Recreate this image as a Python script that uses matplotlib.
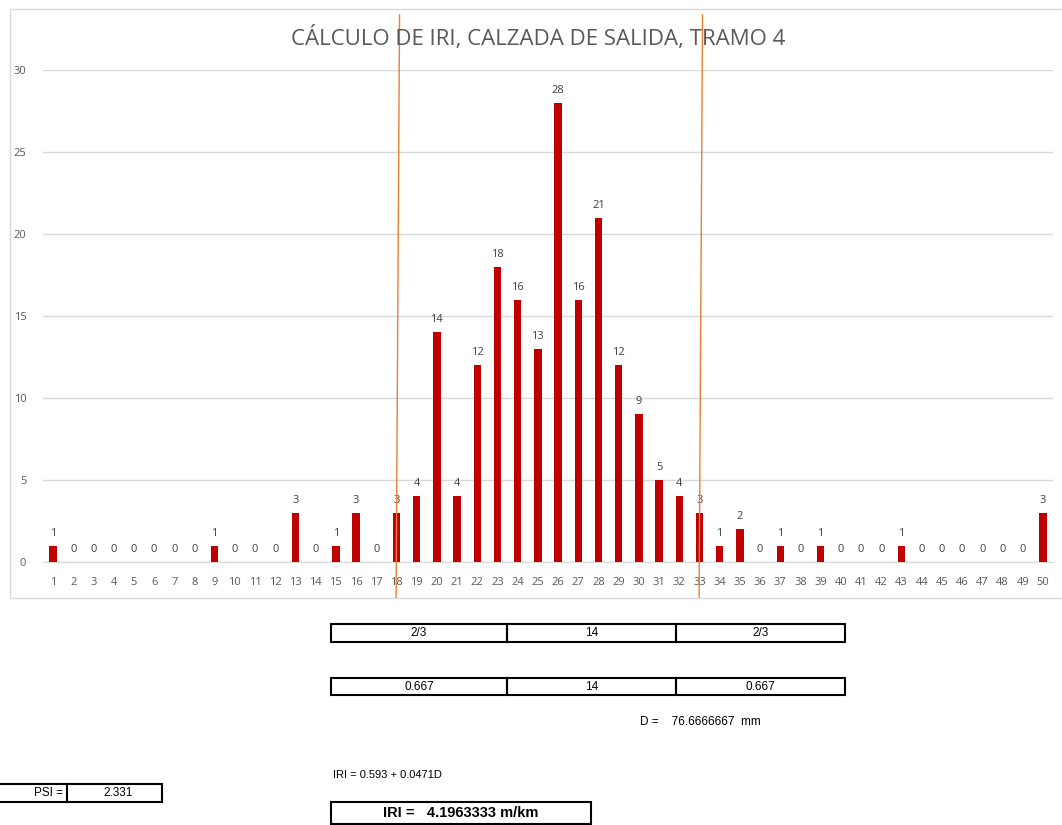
import matplotlib
matplotlib.use('Agg')
import matplotlib.pyplot as plt
from matplotlib.patches import Rectangle

# Frequency of each class (1..50)
clases = list(range(1, 51))
frecuencia = [1, 0, 0, 0, 0, 0, 0, 0, 1, 0, 0, 0, 3, 0, 1, 3, 0, 3, 4, 14,
              4, 12, 18, 16, 13, 28, 16, 21, 12, 9, 5, 4, 3, 1, 2, 0, 1, 0, 1, 0,
              0, 0, 1, 0, 0, 0, 0, 0, 0, 3]
limites = [18, 33]
titulo = 'CÁLCULO DE IRI, CALZADA DE SALIDA, TRAMO 4'
fila_fraccion = ['2/3', '14', '2/3']
fila_decimal = ['0.667', '14', '0.667']
D = 76.6666667
IRI = 4.1963333
PSI = 2.331

W, H = 1062, 825
fig = plt.figure(figsize=(W / 100, H / 100), dpi=100)

def fx(px):
    return px / W

def fy(py):
    return 1 - py / H

# chart area border
fig.add_artist(Rectangle((fx(10), fy(598)), fx(1070) - fx(10), fy(9) - fy(598),
                         transform=fig.transFigure, fill=False, ec='#d9d9d9', lw=1))

ax = fig.add_axes([fx(43), fy(562), fx(1053) - fx(43), fy(70) - fy(562)])
ax.bar(clases, frecuencia, width=0.36, color='#c00000', zorder=3)
for x, v in zip(clases, frecuencia):
    ax.annotate(str(v), (x, v), xytext=(0, 5), textcoords='offset points',
                ha='center', va='bottom', fontsize=8, color='#404040', family='Open Sans')

ax.set_xlim(0.5, 50.5)
ax.set_ylim(0, 30)
ax.set_yticks(range(0, 31, 5))
ax.set_xticks(clases)
ax.grid(axis='y', color='#d9d9d9', lw=1, zorder=0)
for s in ['top', 'right', 'left']:
    ax.spines[s].set_visible(False)
ax.spines['bottom'].set_color('#d9d9d9')
ax.tick_params(length=0, labelsize=8, labelcolor='#595959', pad=11)
ax.tick_params(axis='y', pad=12)
for lab in ax.get_xticklabels() + ax.get_yticklabels():
    lab.set_family('Open Sans')

fig.text(fx(538), fy(38), titulo, ha='center', va='center', fontsize=16,
         color='#595959', family='Open Sans')

# vertical limit lines
for lim in limites:
    ax.plot([lim + 0.15, lim - 0.02], [1.112 * 30, -0.073 * 30], color='#ed7d31',
            lw=1, clip_on=False, zorder=4)

# tables below the chart
def fila(y0, y1, textos, bold=False, size=8.5):
    bordes = [331, 507, 676, 845]
    for i, t in enumerate(textos):
        fig.add_artist(Rectangle((fx(bordes[i]), fy(y1)), fx(bordes[i + 1]) - fx(bordes[i]),
                                 fy(y0) - fy(y1), transform=fig.transFigure,
                                 fill=False, ec='black', lw=1.5))
        fig.text(fx((bordes[i] + bordes[i + 1]) / 2), fy((y0 + y1) / 2), t,
                 ha='center', va='center', fontsize=size, family='Liberation Sans')

fila(624, 642, fila_fraccion)
fila(678, 695, fila_decimal)

fig.text(fx(640), fy(722), f'D =    {D:.7f}  mm', ha='left', va='center',
         fontsize=8.5, family='Liberation Sans')
fig.text(fx(333), fy(775), 'IRI = 0.593 + 0.0471D', ha='left', va='center',
         fontsize=8, family='Liberation Sans')

fig.add_artist(Rectangle((fx(331), fy(824)), fx(591) - fx(331), fy(802) - fy(824),
                         transform=fig.transFigure, fill=False, ec='black', lw=1.5))
fig.text(fx(461), fy(813), f'IRI =   {IRI:.7f} m/km', ha='center', va='center',
         fontsize=10.5, fontweight='bold', family='Liberation Sans')

fig.add_artist(Rectangle((fx(-2), fy(802)), fx(162) - fx(-2), fy(784) - fy(802),
                         transform=fig.transFigure, fill=False, ec='black', lw=1.5))
fig.add_artist(plt.Line2D([fx(67), fx(67)], [fy(802), fy(784)], transform=fig.transFigure,
                          color='black', lw=1.5))
fig.text(fx(63), fy(793), 'PSI =', ha='right', va='center', fontsize=8.5, family='Liberation Sans')
fig.text(fx(118), fy(793), f'{PSI:.3f}', ha='center', va='center', fontsize=8.5,
         family='Liberation Sans')

fig.savefig('out.png', dpi=100)
